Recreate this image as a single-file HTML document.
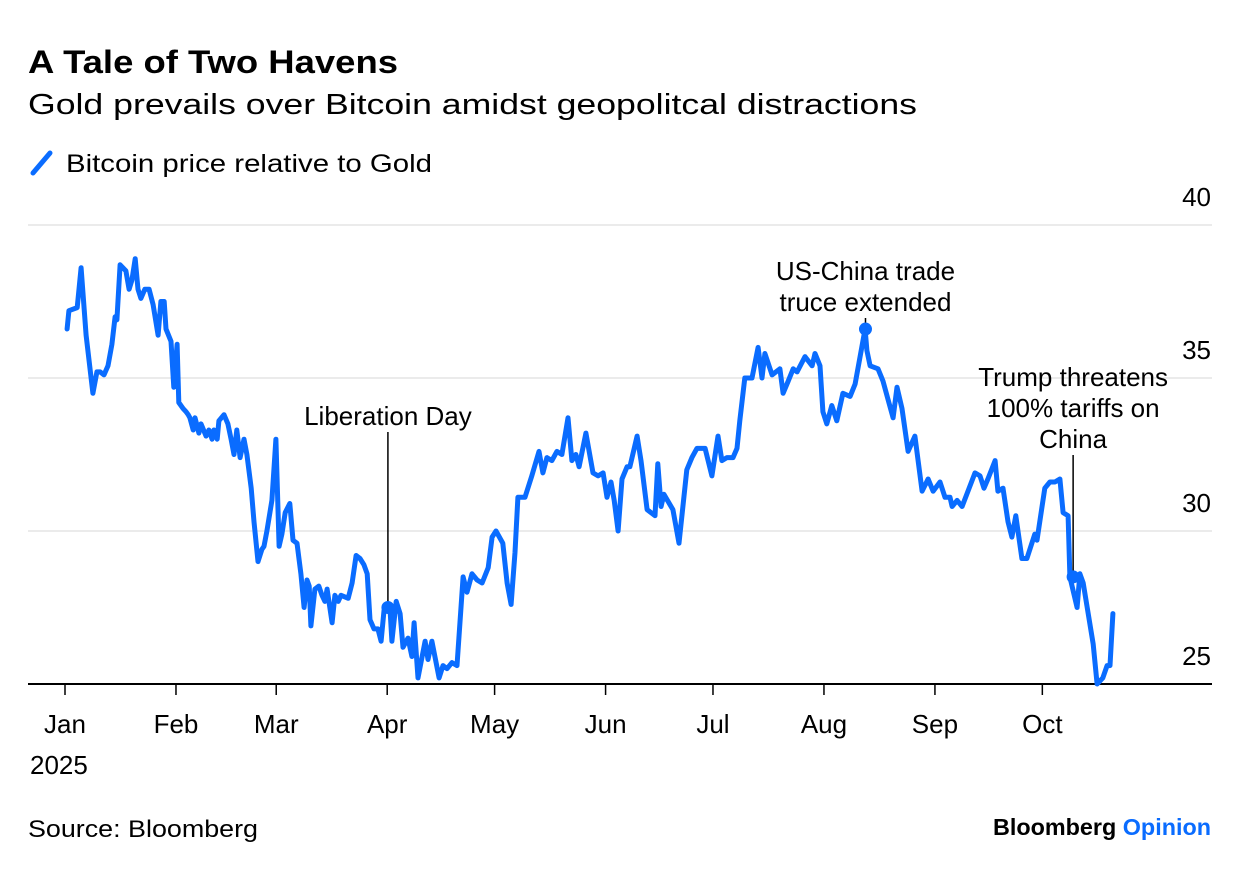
<!DOCTYPE html>
<html><head><meta charset="utf-8">
<style>
body{margin:0;background:#fff;}
svg{display:block;font-family:"Liberation Sans",sans-serif;}
</style></head>
<body>
<svg id="chart" width="1240" height="870" viewBox="0 0 1240 870">
<text x="28" y="73" font-size="32" font-weight="bold" fill="#000" textLength="370" lengthAdjust="spacingAndGlyphs">A Tale of Two Havens</text>
<text x="28" y="114" font-size="29" fill="#000" textLength="889" lengthAdjust="spacingAndGlyphs">Gold prevails over Bitcoin amidst geopolitcal distractions</text>
<g>
<line x1="33" y1="173" x2="50" y2="153" stroke="#0a6cff" stroke-width="5" stroke-linecap="round"/>
<text x="66" y="172" font-size="25" fill="#000" textLength="366" lengthAdjust="spacingAndGlyphs">Bitcoin price relative to Gold</text>
</g>
<g id="grid"></g>
<g id="axes"></g>
<g id="series"></g>
<g id="annots"></g>
<text x="28" y="837" font-size="24" fill="#000" textLength="230" lengthAdjust="spacingAndGlyphs">Source: Bloomberg</text>
<text x="993" y="835" font-size="23" font-weight="bold" fill="#000" textLength="218" lengthAdjust="spacingAndGlyphs">Bloomberg <tspan fill="#0a6cff">Opinion</tspan></text>
</svg>
<script>
const days=[0.6,1.1,3.4,4.5,5.9,7.8,8.9,9.8,10.9,12.0,13.1,14.0,14.5,15.4,17.0,17.9,18.7,19.6,20.4,21.2,22.3,23.5,24.6,26.0,26.8,27.7,28.2,29.6,30.4,31.3,31.8,33.0,33.8,34.4,34.9,35.8,36.3,37.4,38.0,39.4,40.2,41.1,41.6,42.5,43.0,44.4,45.5,46.4,47.2,48.0,48.9,50.0,50.8,52.0,52.8,53.9,55.0,55.6,56.4,57.8,58.9,59.8,60.6,61.5,62.8,63.7,64.8,65.9,66.8,67.6,68.2,68.7,69.8,70.9,71.8,72.6,73.2,74.6,75.4,76.3,77.1,79.1,80.2,81.3,82.4,83.5,84.4,85.2,86.3,87.4,88.3,89.1,89.9,90.8,91.3,92.5,93.6,94.4,95.8,96.9,97.5,98.6,100.6,101.4,102.5,104.5,105.6,106.7,108.1,109.5,111.2,112.3,113.7,115.1,116.5,118.2,119.3,120.4,122.3,123.5,124.6,125.7,126.5,128.5,130.4,132.4,133.5,134.6,136.0,137.4,138.8,140.5,141.6,142.7,143.6,145.5,147.5,148.9,150.3,151.4,152.5,153.4,154.5,155.6,157.0,157.8,159.8,160.9,162.6,164.8,165.6,166.5,167.3,169.8,171.5,173.7,175.1,176.5,178.8,180.7,182.4,183.5,184.9,186.6,187.7,188.5,189.9,191.9,193.6,194.7,195.5,197.5,199.7,200.6,202.0,203.4,204.5,206.7,208.7,209.5,210.9,211.7,212.8,214.2,215.6,217.3,219.3,220.7,222.1,223.5,224.0,224.9,227.1,228.5,229.9,231.3,232.4,233.8,235.5,237.4,239.4,241.1,242.5,244.4,245.8,247.2,247.8,249.2,250.6,254.2,255.6,256.7,257.8,259.8,260.6,262.0,263.4,264.5,265.6,267.3,268.7,270.9,271.5,273.7,275.1,276.5,277.9,278.8,280.2,280.7,282.7,283.5,284.4,287.2,288.3,289.9,291.1,291.9,292.7];
const ratio=[36.6,37.2,37.3,38.6,36.4,34.5,35.2,35.2,35.1,35.4,36.1,37.0,36.9,38.7,38.5,37.9,38.2,38.9,37.9,37.6,37.9,37.9,37.4,36.4,37.5,37.5,36.6,36.2,34.7,36.1,34.2,34.0,33.9,33.8,33.7,33.3,33.7,33.2,33.5,33.1,33.3,33.0,33.3,33.0,33.6,33.8,33.5,33.0,32.5,33.3,32.4,33.0,32.5,31.4,30.3,29.0,29.4,29.5,30.0,31.0,33.0,29.5,29.9,30.6,30.9,29.7,29.6,28.6,27.5,28.4,28.2,26.9,28.1,28.2,27.9,27.7,28.1,27.0,27.9,27.7,27.9,27.8,28.3,29.2,29.1,28.9,28.6,27.1,26.8,26.8,26.4,27.4,27.5,27.4,26.4,27.7,27.3,26.2,26.5,25.9,27.0,25.2,26.4,25.8,26.4,25.2,25.6,25.5,25.7,25.6,28.5,28.0,28.6,28.4,28.3,28.8,29.8,30.0,29.6,28.3,27.6,29.3,31.1,31.1,31.8,32.6,31.9,32.4,32.3,32.6,32.5,33.7,32.3,32.5,32.1,33.2,31.9,31.8,31.9,31.1,31.6,31.0,30.0,31.7,32.1,32.1,33.1,32.3,30.7,30.5,32.2,30.8,31.2,30.7,29.6,32.0,32.4,32.7,32.7,31.8,33.1,32.3,32.4,32.4,32.7,33.6,35.0,35.0,36.0,35.0,35.8,35.1,35.3,34.5,34.9,35.3,35.2,35.7,35.4,35.8,35.4,33.9,33.5,34.1,33.6,34.5,34.4,34.8,35.7,36.6,35.9,35.4,35.3,34.9,34.3,33.7,34.7,34.0,32.6,33.1,31.3,31.7,31.3,31.6,31.1,31.1,30.8,31.0,30.8,31.9,31.8,31.4,31.7,32.3,31.3,31.4,30.3,29.8,30.5,29.1,29.1,29.9,29.7,31.4,31.6,31.6,31.7,30.6,30.5,28.5,27.5,28.6,28.3,26.3,25.0,25.2,25.6,25.6,27.3];
const yTicks=[25,30,35,40];
const monthLabels=["Jan","Feb","Mar","Apr","May","Jun","Jul","Aug","Sep","Oct"];
const monthStarts=[0,31,59,90,120,151,181,212,243,273];
const annotLabels=[["Liberation Day"],["US-China trade","truce extended"],["Trump threatens","100% tariffs on","China"]];
const annotDays=[90.2,223.6,281.6];
const annotVals=[27.5,36.6,28.5];

const NS="http://www.w3.org/2000/svg";
const X=d=>65+d*3.58;
const Y=v=>684-(v-25)*30.6;
function mk(tag,attrs,parent,txt){const e=document.createElementNS(NS,tag);for(const k in attrs)e.setAttribute(k,attrs[k]);if(txt!==undefined)e.textContent=txt;parent.appendChild(e);return e;}
const grid=document.getElementById('grid'),axes=document.getElementById('axes'),series=document.getElementById('series'),ann=document.getElementById('annots');
yTicks.forEach(t=>{
  if(t>25){const g=mk('line',{x1:28,x2:1212,y1:Y(t),y2:Y(t),stroke:'#ebebeb','stroke-width':2},grid);
  
  }
  const l=mk('text',{x:1211,y:Y(t)-19,'font-size':26,'text-anchor':'end',fill:'#000'},axes,String(t));
  
  
});
const base=mk('line',{x1:28,x2:1212,y1:684,y2:684,stroke:'#000','stroke-width':2},axes);


monthLabels.forEach((m,i)=>{
  const x=X(monthStarts[i]);
  const tk=mk('line',{x1:x,x2:x,y1:684,y2:695,stroke:'#000','stroke-width':1.5},axes);
  
  
  const tl=mk('text',{x:x,y:733,'font-size':26,'text-anchor':'middle',fill:'#000'},axes,m);
  
  
});
const yr=mk('text',{x:30,y:774,'font-size':26,fill:'#000'},axes,'2025');


const pts=days.map((d,i)=>X(d).toFixed(1)+','+Y(ratio[i]).toFixed(1)).join(' ');
const pl=mk('polyline',{points:pts,fill:'none',stroke:'#0a6cff','stroke-width':5,'stroke-linejoin':'round','stroke-linecap':'round'},series);


const aTop=[432,318,455];
annotDays.forEach((d,i)=>{
  const x=X(d),y=Y(annotVals[i]);
  const ln=mk('line',{x1:x,x2:x,y1:aTop[i],y2:y,stroke:'#000','stroke-width':1.5},ann);
  
  
  const c=mk('circle',{cx:x,cy:y,r:6.5,fill:'#0a6cff'},ann);
  
  
  const lines=annotLabels[i];
  lines.forEach((s,j)=>{
    const ty=aTop[i]-7-(lines.length-1-j)*31;
    const t=mk('text',{x:x,y:ty,'font-size':26,'text-anchor':'middle',fill:'#000'},ann,s);
    
    
  });
});
</script>
</body></html>
